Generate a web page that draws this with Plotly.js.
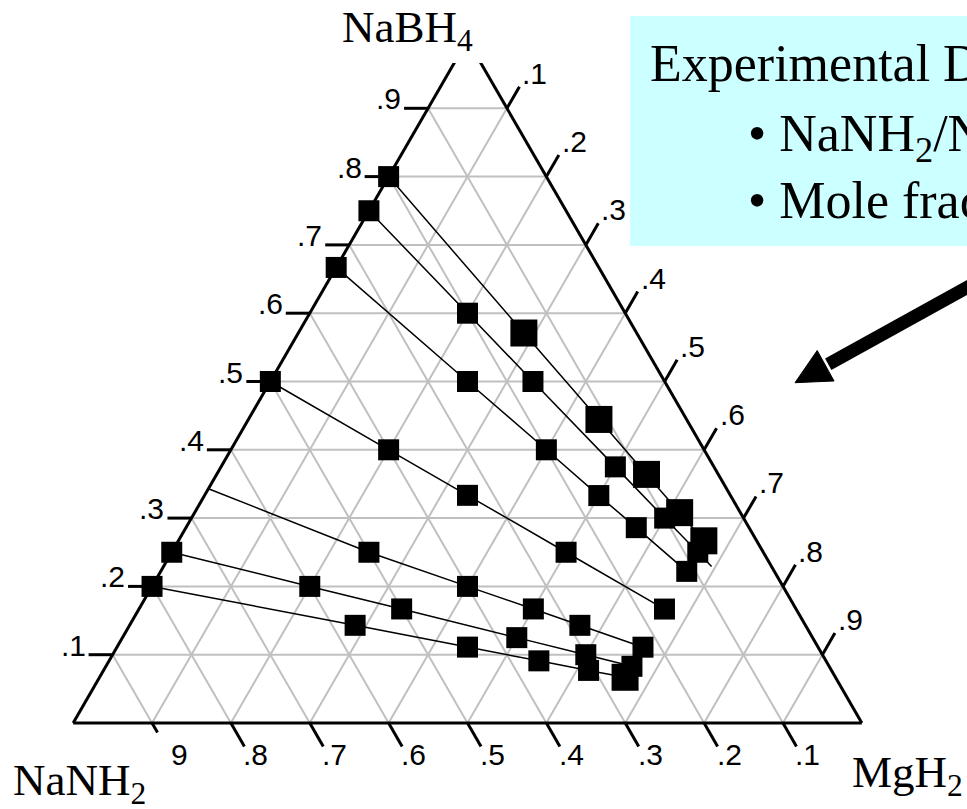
<!DOCTYPE html>
<html>
<head>
<meta charset="utf-8">
<script src="https://cdn.plot.ly/plotly-3.0.1.min.js"></script>
<style>html,body{margin:0;padding:0;background:#fff;} #chart{width:967px;height:809px;}</style>
</head>
<body>
<div id="chart"></div>
<script>
// ---------------- DATA (mole fractions) ----------------
// Component names at the three corners
const cornerTop = 'NaBH<sub>4</sub>';
const cornerLeft = 'NaNH<sub>2</sub>';
const cornerRight = 'MgH<sub>2</sub>';

// Series 1 (NaBH4 : NaNH2 = 0.8 : 0.2)
const s1_NaBH4 = [0.800, 0.571, 0.444, 0.364, 0.308, 0.267];
const s1_NaNH2 = [0.200, 0.143, 0.111, 0.091, 0.077, 0.067];
const s1_MgH2  = [0.000, 0.286, 0.444, 0.545, 0.615, 0.667];
// Series 2 (0.75 : 0.25) - last point is the end of the line only
const s2_NaBH4 = [0.750, 0.600, 0.500, 0.375, 0.300, 0.250, 0.229];
const s2_NaNH2 = [0.250, 0.200, 0.167, 0.125, 0.100, 0.083, 0.076];
const s2_MgH2  = [0.000, 0.200, 0.333, 0.500, 0.600, 0.667, 0.695];
// Series 3 (0.667 : 0.333)
const s3_NaBH4 = [0.667, 0.500, 0.400, 0.333, 0.286, 0.222];
const s3_NaNH2 = [0.333, 0.250, 0.200, 0.167, 0.143, 0.111];
const s3_MgH2  = [0.000, 0.250, 0.400, 0.500, 0.571, 0.667];
// Series 4 (0.5 : 0.5)
const s4_NaBH4 = [0.500, 0.400, 0.333, 0.250, 0.167];
const s4_NaNH2 = [0.500, 0.400, 0.333, 0.250, 0.167];
const s4_MgH2  = [0.000, 0.200, 0.333, 0.500, 0.667];
// Series 5 (about 0.333 : 0.667) - first point is the start of the line only
const s5_NaBH4 = [0.343, 0.250, 0.200, 0.167, 0.143, 0.111];
const s5_NaNH2 = [0.657, 0.500, 0.400, 0.333, 0.286, 0.222];
const s5_MgH2  = [0.000, 0.250, 0.400, 0.500, 0.571, 0.667];
// Series 6 (0.25 : 0.75)
const s6_NaBH4 = [0.250, 0.200, 0.167, 0.125, 0.100, 0.083];
const s6_NaNH2 = [0.750, 0.600, 0.500, 0.375, 0.300, 0.250];
const s6_MgH2  = [0.000, 0.200, 0.333, 0.500, 0.600, 0.667];
// Series 7 (0.2 : 0.8)
const s7_NaBH4 = [0.200, 0.143, 0.111, 0.091, 0.077, 0.067];
const s7_NaNH2 = [0.800, 0.571, 0.444, 0.364, 0.308, 0.267];
const s7_MgH2  = [0.000, 0.286, 0.444, 0.545, 0.615, 0.667];

// Tick values and labels
const leftTickVals  = [0.1, 0.2, 0.3, 0.4, 0.5, 0.6, 0.7, 0.8, 0.9];   // NaBH4
const leftTickText  = ['.1', '.2', '.3', '.4', '.5', '.6', '.7', '.8', '.9'];
const rightTickVals = [0.1, 0.2, 0.3, 0.4, 0.5, 0.6, 0.7, 0.8, 0.9];   // MgH2
const rightTickText = ['.1', '.2', '.3', '.4', '.5', '.6', '.7', '.8', '.9'];
const bottomTickVals = [0.9, 0.8, 0.7, 0.6, 0.5, 0.4, 0.3, 0.2, 0.1];  // NaNH2
const bottomTickText = ['9', '.8', '.7', '.6', '.5', '.4', '.3', '.2', '.1'];

// Text box
const boxTitle = 'Experimental D';
const boxLine1 = '\u2022 NaNH<sub>2</sub>/N';
const boxLine2 = '\u2022 Mole frac';

// ---------------- LAYOUT GEOMETRY / STYLE ----------------
const PAGE_W = 967, PAGE_H = 809;
const M = {l: 57, r: 89, t: 40, b: 86};
const PW = PAGE_W - M.l - M.r, PH = PAGE_H - M.t - M.b;
const triH = PH, triW = PH * 2 / Math.sqrt(3);
const cx = M.l + PW / 2;
const VA = [cx, M.t], VB = [cx - triW / 2, M.t + triH], VC = [cx + triW / 2, M.t + triH];
function pt(a, b, c) { return [a*VA[0] + b*VB[0] + c*VC[0], a*VA[1] + b*VB[1] + c*VC[1]]; }
const X = px => (px - M.l) / PW;
const Y = py => (M.t + PH - py) / PH;

const NORMAL = 21, BIG = 27;
const serif = 'Liberation Serif, Times New Roman, serif';
const sans = 'Liberation Sans, Arial, sans-serif';
const TICKSIZE = 30;
const TICKFONT = {family: sans, size: TICKSIZE, color: '#000'};

function trace(a, b, c, sizes) {
  return {
    type: 'scatterternary', mode: 'lines+markers', a: a, b: b, c: c,
    line: {color: '#000', width: 1.5},
    marker: {symbol: 'square', color: '#000', opacity: 1, size: sizes, line: {width: 0}},
    cliponaxis: false, hoverinfo: 'skip', showlegend: false
  };
}
const data = [
  trace(s2_NaBH4, s2_NaNH2, s2_MgH2, [NORMAL, NORMAL, NORMAL, NORMAL, NORMAL, NORMAL, 0]),
  trace(s3_NaBH4, s3_NaNH2, s3_MgH2, s3_MgH2.map(() => NORMAL)),
  trace(s4_NaBH4, s4_NaNH2, s4_MgH2, s4_MgH2.map(() => NORMAL)),
  trace(s5_NaBH4, s5_NaNH2, s5_MgH2, [0, NORMAL, NORMAL, NORMAL, NORMAL, NORMAL]),
  trace(s6_NaBH4, s6_NaNH2, s6_MgH2, s6_MgH2.map(() => NORMAL)),
  trace(s7_NaBH4, s7_NaNH2, s7_MgH2, [NORMAL, NORMAL, NORMAL, NORMAL, NORMAL, BIG]),
  trace(s1_NaBH4, s1_NaNH2, s1_MgH2, [NORMAL, BIG, BIG, BIG, BIG, BIG])
];

const axisStyle = {
  min: 0, tickmode: 'linear', tick0: 0, dtick: 0.1,
  ticks: '', showticklabels: false,
  showgrid: true, gridcolor: '#c0c0c0', gridwidth: 2,
  showline: true, linecolor: '#000', linewidth: 3,
  layer: 'below traces', title: {text: ''}
};

const shapes = [];
const annotations = [];
function seg(p, q, w) {
  shapes.push({type: 'line', xref: 'paper', yref: 'paper', layer: 'below',
    x0: X(p[0]), y0: Y(p[1]), x1: X(q[0]), y1: Y(q[1]), line: {color: '#000', width: w}});
}
function label(text, px, py, xanchor, yanchor, font) {
  annotations.push({text: text, xref: 'paper', yref: 'paper', x: X(px), y: Y(py),
    xanchor: xanchor, yanchor: yanchor, showarrow: false, font: font});
}

// text box background (drawn first)
shapes.push({type: 'rect', xref: 'paper', yref: 'paper', layer: 'below',
  x0: X(630), x1: X(1010), y0: Y(16), y1: Y(246), fillcolor: '#ccffff', line: {width: 0}});
// white patch hiding the apex behind the top corner label
shapes.push({type: 'rect', xref: 'paper', yref: 'paper', layer: 'above',
  x0: X(440), x1: X(495), y0: Y(0), y1: Y(63), fillcolor: '#ffffff', line: {width: 0}});

// left ticks (NaBH4)
const LT = 24;
leftTickVals.forEach((v, i) => {
  const p = pt(v, 1 - v, 0);
  seg(p, [p[0] - LT, p[1]], 3);
  label(leftTickText[i], p[0] - LT - 1, p[1] + 1 - 0.35 * TICKSIZE, 'right', 'middle', TICKFONT);
});
// right ticks (MgH2)
const RT = 25;
rightTickVals.forEach((v, i) => {
  const p = pt(1 - v, 0, v);
  const e = [p[0] + 0.5 * RT, p[1] - 0.866 * RT];
  seg(p, e, 3);
  label(rightTickText[i], e[0] + 1, e[1] - 3 - 0.35 * TICKSIZE, 'left', 'middle', TICKFONT);
});
// bottom ticks (NaNH2)
const BT = 27;
bottomTickVals.forEach((v, i) => {
  const p = pt(0, v, 1 - v);
  const len = i === 0 ? 11 : BT;
  seg(p, [p[0] + 0.5 * len, p[1] + 0.866 * len], 3);
  const e = [p[0] + 0.5 * BT, p[1] + 0.866 * BT];
  const shift = bottomTickText[i].startsWith('.') ? 0 : 6;
  label(bottomTickText[i], e[0] - 3 + shift, e[1] + 8, 'left', 'middle', TICKFONT);
});

// corner labels
const CORNERFONT = {family: serif, size: 45, color: '#000'};
label(cornerTop, 339.5, 41.7 - 0.891 * 45 - 2, 'left', 'top', CORNERFONT);
label(cornerLeft, 10.5, 795 - 0.891 * 45 - 2, 'left', 'top', CORNERFONT);
label(cornerRight, 849.5, 786.7 - 0.891 * 45 - 2, 'left', 'top', CORNERFONT);

// text box content
const BOXFONT = {family: serif, size: 52, color: '#000'};
label(boxTitle, 648, 81.7 - 0.891 * 52 - 2, 'left', 'top', BOXFONT);
label(boxLine1, 745.5, 151.7 - 0.891 * 52 - 2, 'left', 'top', BOXFONT);
label(boxLine2, 745.5, 218 - 0.891 * 52 - 2, 'left', 'top', BOXFONT);

// arrow pointing at the diagram
const tip = [795, 382.7], tail = [1000, 269.2];
const ux = tip[0] - tail[0], uy = tip[1] - tail[1], ul = Math.hypot(ux, uy);
const u = [ux / ul, uy / ul], n = [-u[1], u[0]];
const HL = 35, HW = 17.4;
const base = [tip[0] - HL * u[0], tip[1] - HL * u[1]];
shapes.push({type: 'line', xref: 'paper', yref: 'paper', layer: 'above',
  x0: X(tail[0]), y0: Y(tail[1]), x1: X(base[0] - 3 * u[0]), y1: Y(base[1] - 3 * u[1]),
  line: {color: '#000', width: 13}});
const h1 = [base[0] + HW * n[0], base[1] + HW * n[1]], h2 = [base[0] - HW * n[0], base[1] - HW * n[1]];
shapes.push({type: 'path', xref: 'paper', yref: 'paper', layer: 'above',
  path: 'M' + X(tip[0]) + ',' + Y(tip[1]) + ' L' + X(h1[0]) + ',' + Y(h1[1]) + ' L' + X(h2[0]) + ',' + Y(h2[1]) + ' Z',
  fillcolor: '#000', line: {color: '#000', width: 1}});

const layout = {
  width: PAGE_W, height: PAGE_H,
  margin: M, paper_bgcolor: '#fff',
  showlegend: false, hovermode: false,
  ternary: {
    sum: 1, bgcolor: 'rgba(0,0,0,0)', domain: {x: [0, 1], y: [0, 1]},
    aaxis: axisStyle, baxis: axisStyle, caxis: axisStyle
  },
  shapes: shapes, annotations: annotations
};
Plotly.newPlot('chart', data, layout, {displayModeBar: false, staticPlot: true});
</script>
</body>
</html>
